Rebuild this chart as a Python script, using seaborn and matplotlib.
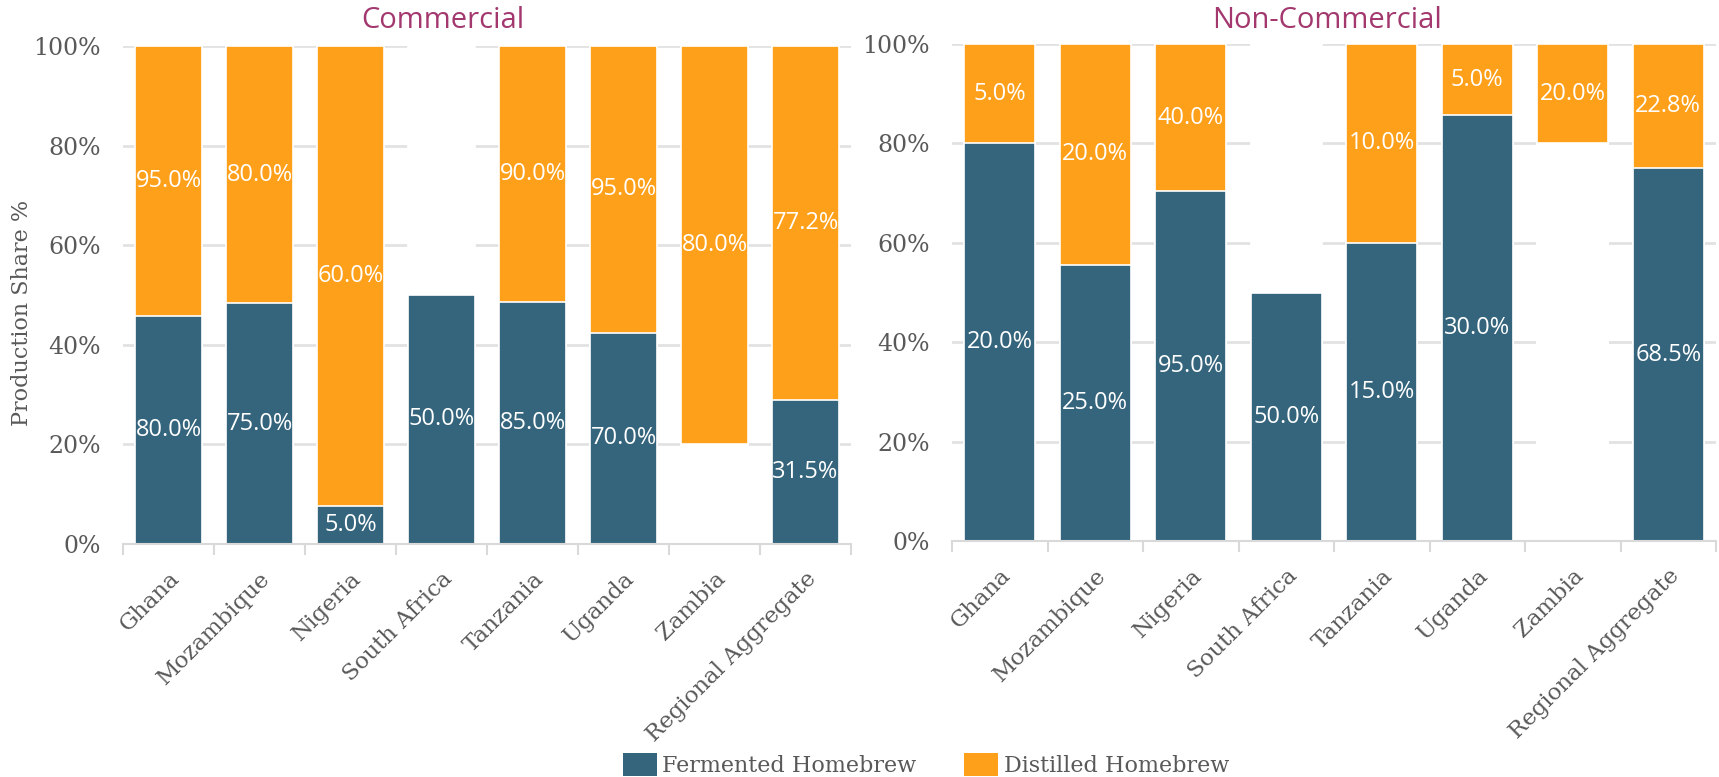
import numpy as np
import pandas as pd
import matplotlib
matplotlib.use("Agg")
import matplotlib.pyplot as plt
import seaborn as sns
from matplotlib.patches import Patch
from matplotlib.ticker import PercentFormatter, FixedLocator

# ---------------- data ----------------
countries = ["Ghana", "Mozambique", "Nigeria", "South Africa", "Tanzania",
             "Uganda", "Zambia", "Regional Aggregate"]

com_fermented = [80.0, 75.0, 5.0, 50.0, 85.0, 70.0, 20.0, 31.5]
com_distilled = [95.0, 80.0, 60.0, 50.0, 90.0, 95.0, 80.0, 77.2]
com_fermented_shown = [True, True, True, True, True, True, False, True]
com_distilled_shown = [True, True, True, False, True, True, True, True]

non_fermented = [20.0, 25.0, 95.0, 50.0, 15.0, 30.0, 80.0, 68.5]
non_distilled = [5.0, 20.0, 40.0, 50.0, 10.0, 5.0, 20.0, 22.8]
non_fermented_shown = [True, True, True, True, True, True, False, True]
non_distilled_shown = [True, True, True, False, True, True, True, True]

panel_titles = ["Commercial", "Non-Commercial"]
series_names = ["Fermented Homebrew", "Distilled Homebrew"]
y_ticks = [0, 0.2, 0.4, 0.6, 0.8, 1.0]

# ---------------- style ----------------
TEAL = "#35657D"
ORANGE = "#FFA01A"
TITLE_C = "#A3386F"
TXT = "#595959"
GRID = "#E2E2E2"
SERIF = "DejaVu Serif"
SANS = "Open Sans"

sns.set_theme(style="white")
plt.rcParams["font.family"] = [SERIF, "DejaVu Sans"]

fig = plt.figure(figsize=(17.19, 7.77), dpi=100)
ax1 = fig.add_axes([123/1719, 1-544/777, 728/1719, 498/777])
ax2 = fig.add_axes([952/1719, 1-541/777, 764/1719, 497/777])


def draw(ax, ferm, dist, fshow, dshow):
    f = np.array(ferm)
    d = np.array(dist)
    tot = f + d
    df = pd.DataFrame({"country": countries,
                       "total": tot / tot,
                       "fshare": f / tot})
    top_pal = {c: (ORANGE if s else "white") for c, s in zip(countries, dshow)}
    bot_pal = {c: (TEAL if s else "white") for c, s in zip(countries, fshow)}
    common = dict(data=df, x="country", hue="country", order=countries,
                  hue_order=countries, legend=False, width=0.74,
                  edgecolor="white", linewidth=1.2, saturation=1,
                  errorbar=None, ax=ax)
    sns.barplot(y="total", palette=top_pal, **common)
    sns.barplot(y="fshare", palette=bot_pal, **common)

    for i in range(len(countries)):
        fs = f[i] / tot[i]
        ds = d[i] / tot[i]
        if fshow[i]:
            ax.text(i, fs / 2, f"{f[i]:.1f}%", ha="center", va="center",
                    color="white", fontsize=17, family=SANS)
        if dshow[i]:
            ax.text(i, fs + ds / 2, f"{d[i]:.1f}%", ha="center", va="center",
                    color="white", fontsize=17, family=SANS)

    ax.set_xlim(-0.5, len(countries) - 0.5)
    ax.set_ylim(0, 1)
    ax.yaxis.set_major_locator(FixedLocator(y_ticks))
    ax.yaxis.set_major_formatter(PercentFormatter(1.0, decimals=0))
    ax.set_axisbelow(True)
    ax.yaxis.grid(True, color=GRID, linewidth=2)
    ax.xaxis.grid(False)
    for s in ["top", "right", "left"]:
        ax.spines[s].set_visible(False)
    ax.spines["bottom"].set_color("#D9D9D9")
    ax.spines["bottom"].set_linewidth(1.5)
    ax.set_xlabel("")
    ax.set_ylabel("")
    ax.set_xticks(np.arange(-0.5, len(countries), 1), minor=True)
    ax.tick_params(axis="x", which="minor", length=8, width=1.5,
                   color="#D9D9D9", direction="out", bottom=True)
    ax.tick_params(axis="x", which="major", length=0, pad=17)
    ax.tick_params(axis="y", length=0, pad=16)
    ax.set_xticks(range(len(countries)))
    ax.set_xticklabels(countries, rotation=45, ha="right",
                       rotation_mode="anchor", fontsize=16.5, color=TXT,
                       family=SERIF)
    for lab in ax.get_yticklabels():
        lab.set_fontsize(17)
        lab.set_color(TXT)
        lab.set_family(SERIF)


draw(ax1, com_fermented, com_distilled, com_fermented_shown, com_distilled_shown)
draw(ax2, non_fermented, non_distilled, non_fermented_shown, non_distilled_shown)

fig.text(443/1719, 1-20/777, panel_titles[0], ha="center", va="center",
         color=TITLE_C, fontsize=21, family=SANS)
fig.text(1327/1719, 1-20/777, panel_titles[1], ha="center", va="center",
         color=TITLE_C, fontsize=21, family=SANS)
fig.text(22/1719, 1-313/777, "Production Share %", rotation=90,
         ha="center", va="center", color=TXT, fontsize=16, family=SERIF)

handles = [Patch(facecolor=TEAL, edgecolor="none"),
           Patch(facecolor=ORANGE, edgecolor="none")]
fig.legend(handles, series_names, loc="center", ncol=2, frameon=False,
           bbox_to_anchor=(926/1719, 1-765/777),
           prop={"family": SERIF, "size": 16}, labelcolor=TXT,
           handlelength=1.53, handleheight=1.2, handletextpad=0.23,
           columnspacing=2.16, borderaxespad=0, borderpad=0)

fig.savefig("out.png", dpi=100)
